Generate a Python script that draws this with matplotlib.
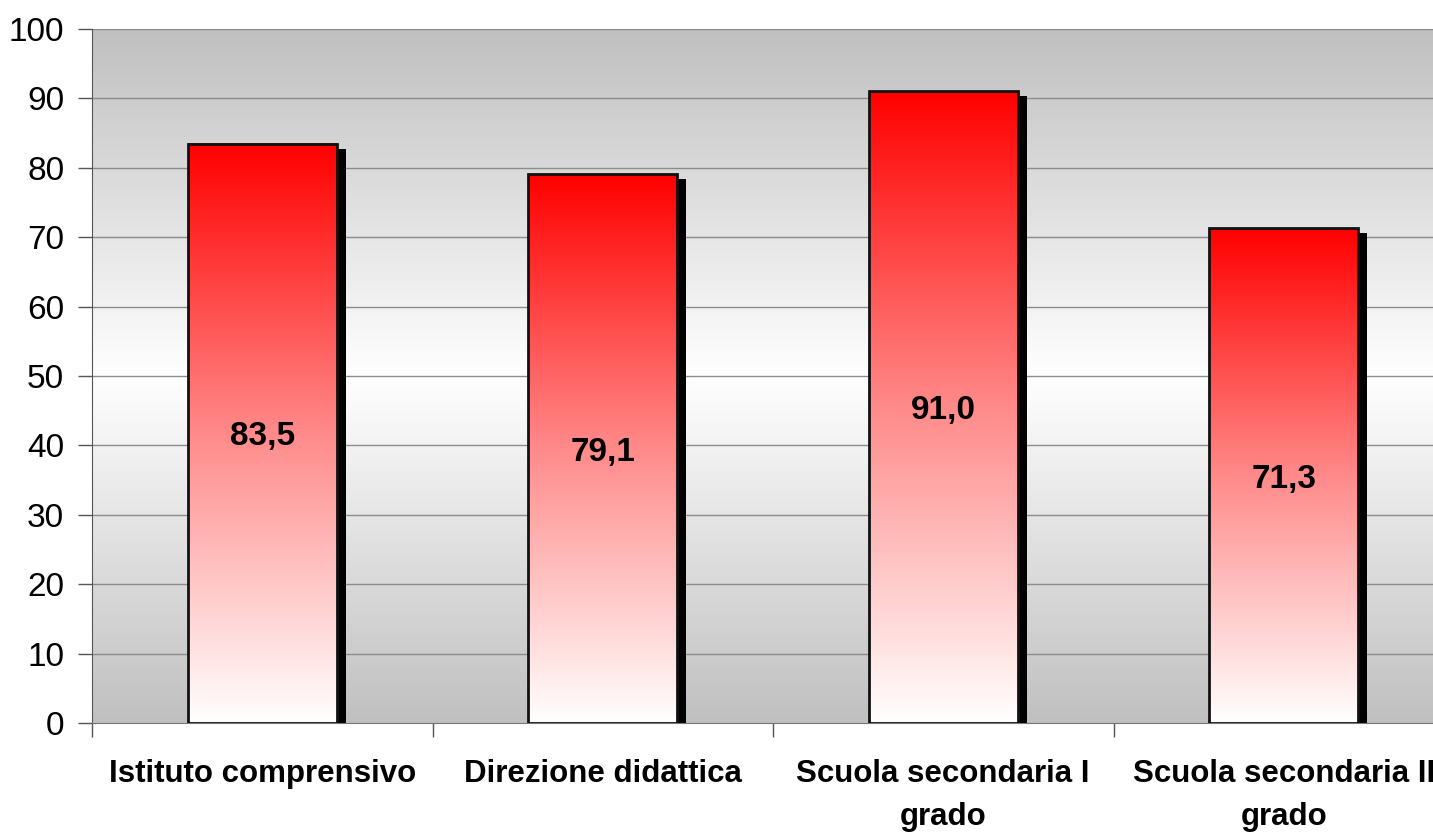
import numpy as np
import matplotlib.pyplot as plt
import matplotlib.transforms as mtransforms
from matplotlib.colors import LinearSegmentedColormap
from matplotlib.patches import Rectangle

categories = ["Istituto comprensivo", "Direzione didattica",
              "Scuola secondaria I\ngrado", "Scuola secondaria II\ngrado"]
values = [83.5, 79.1, 91.0, 71.3]
value_labels = ["83,5", "79,1", "91,0", "71,3"]
yticks = [0, 10, 20, 30, 40, 50, 60, 70, 80, 90, 100]

plt.rcParams["font.family"] = ["Liberation Sans", "DejaVu Sans"]

fig = plt.figure(figsize=(14.33, 8.33), dpi=100)
ax = fig.add_axes([92 / 1433, 110 / 833, 1362 / 1433, 694 / 833])

# background: gray -> white -> gray
bg_cmap = LinearSegmentedColormap.from_list("bg", ["#c0c0c0", "#ffffff", "#c0c0c0"])
bg = np.linspace(0, 1, 256).reshape(-1, 1)
ax.imshow(bg, cmap=bg_cmap, extent=(0, 1, 0, 1), transform=ax.transAxes,
          aspect="auto", zorder=0, origin="lower")

for y in yticks[1:]:
    ax.axhline(y, color="#8c8c8c", lw=1, zorder=1)

bar_cmap = LinearSegmentedColormap.from_list("bar", ["#ffffff", "#ff8a8a", "#ff0000"])
grad = np.linspace(0, 1, 256).reshape(-1, 1)
width = 0.4375
shadow_tr = ax.transData + mtransforms.ScaledTranslation(9 / 100, -5 / 100, fig.dpi_scale_trans)

x = np.arange(len(values))
for xi, v, lab in zip(x, values, value_labels):
    x0 = xi - width / 2
    ax.add_patch(Rectangle((x0, 0), width, v, facecolor="black", edgecolor="none",
                           transform=shadow_tr, zorder=2, clip_on=True))
    ax.imshow(grad, cmap=bar_cmap, extent=(x0, x0 + width, 0, v), aspect="auto",
              origin="lower", zorder=3)
    ax.add_patch(Rectangle((x0, 0), width, v, facecolor="none", edgecolor="#111111",
                           lw=2, zorder=4))
    ax.text(xi, v / 2, lab, ha="center", va="center_baseline", fontsize=24,
            fontweight="bold", zorder=5)

ax.set_xlim(-0.5, 3.5)
ax.set_ylim(0, 100)
ax.set_aspect("auto")

ax.set_yticks(yticks)
ax.tick_params(axis="y", direction="out", length=10, width=1, color="#555555",
               labelsize=24, pad=10)
ax.set_xticks(x)
ax.set_xticklabels(categories, fontsize=22.5, fontweight="bold", linespacing=1.55,
                   va="top")
ax.tick_params(axis="x", length=0, pad=26)
ax.set_xticks([-0.5, 0.5, 1.5, 2.5, 3.5], minor=True)
ax.tick_params(axis="x", which="minor", direction="out", length=10, width=1,
               color="#555555")

for s in ["top", "right"]:
    ax.spines[s].set_visible(False)
ax.spines["left"].set_color("#555555")
ax.spines["bottom"].set_color("#777777")

plt.savefig("out.png", dpi=100)
